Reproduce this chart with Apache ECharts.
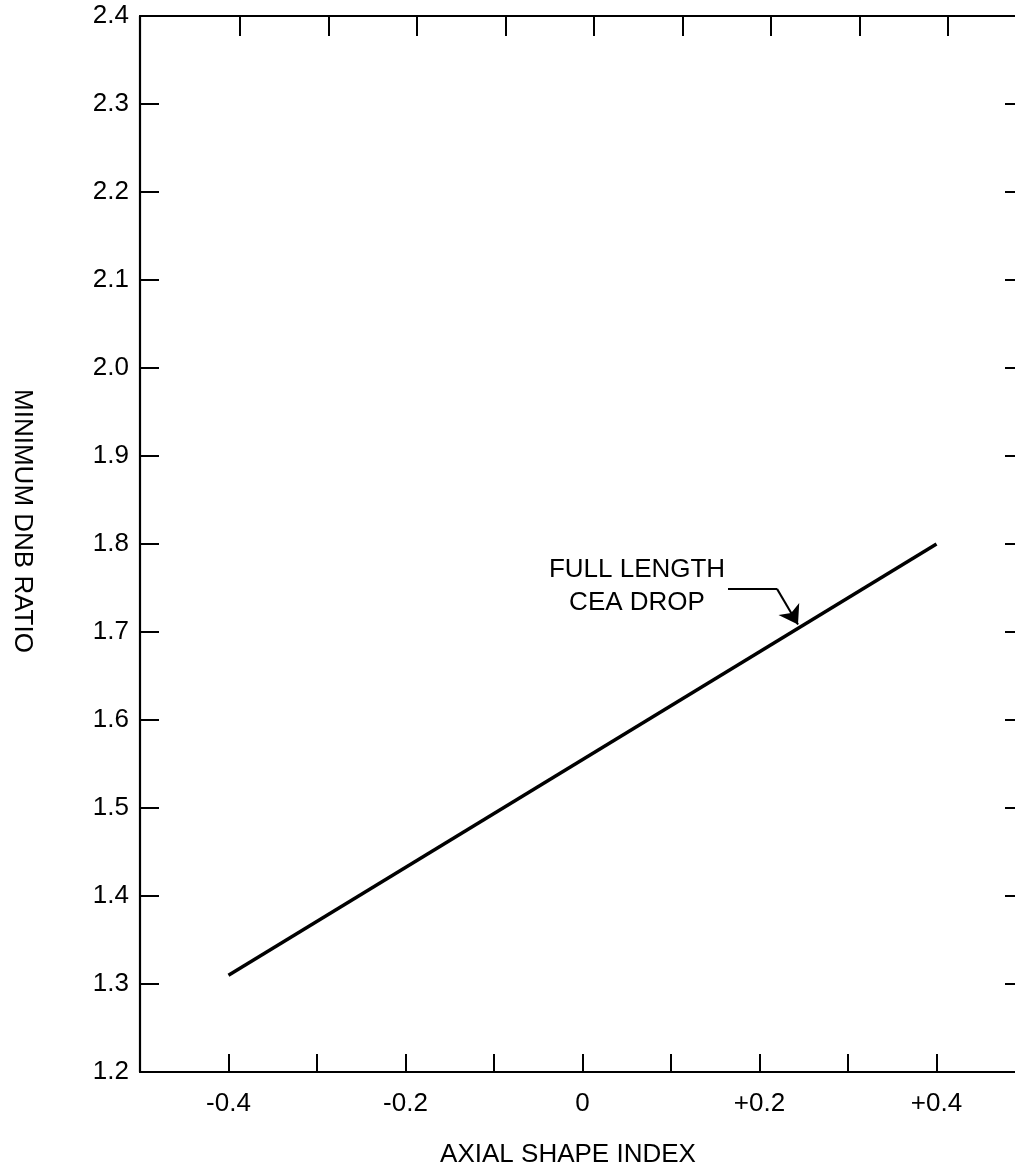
<!DOCTYPE html>
<html>
<head>
<meta charset="utf-8">
<script src="https://cdn.jsdelivr.net/npm/echarts@6/dist/echarts.min.js"></script>
<style>
html,body{margin:0;padding:0;background:#fff;overflow:hidden;}
#chart{width:1045px;height:1169px;}
</style>
</head>
<body>
<div id="chart"></div>
<script>
// ---- data ----
var lineX = [-0.4, 0.4];
var lineY = [1.31, 1.80];
var xTickLabels = {"-0.4": "-0.4", "-0.2": "-0.2", "0": "0", "0.2": "+0.2", "0.4": "+0.4"};
var yMin = 1.2, yMax = 2.4, yStep = 0.1;
var xMin = -0.5, xMax = 0.5, xStep = 0.1;
var xAxisTitle = "AXIAL SHAPE INDEX";
var yAxisTitle = "MINIMUM DNB RATIO";
var annotationText = ["FULL LENGTH", "CEA DROP"];
var annotationAnchor = [0.0616, 1.7517];
var leaderElbow = [[0.1644, 1.749], [0.2198, 1.749]];
var leaderArrow = [[0.2198, 1.749], [0.2435, 1.7085]];

var FONT = "'Liberation Sans', Arial, sans-serif";
var chart = echarts.init(document.getElementById('chart'), null, {renderer: 'canvas'});

var lineData = lineX.map(function (x, i) { return [x, lineY[i]]; });

function xLabel(v) {
  var k = String(Math.round(v * 10) / 10);
  return xTickLabels.hasOwnProperty(k) ? xTickLabels[k] : '';
}

var axisLineStyle = {color: '#000', width: 2.2};

var option = {
  animation: false,
  backgroundColor: '#fff',
  grid: [
    {left: 140, top: 16, width: 885, height: 1056},
    {left: 240, top: 16, width: 796.5, height: 1056}
  ],
  xAxis: [
    {
      type: 'value', gridIndex: 0, position: 'bottom',
      min: xMin, max: xMax, interval: xStep,
      axisLine: {show: true, onZero: false, lineStyle: axisLineStyle},
      axisTick: {show: true, inside: true, length: 18, lineStyle: {color: '#000', width: 2}},
      axisLabel: {show: true, margin: 19, color: '#000', fontSize: 26, fontFamily: FONT,
        formatter: xLabel, showMinLabel: true, showMaxLabel: true},
      splitLine: {show: false}
    },
    {
      type: 'value', gridIndex: 0, position: 'top',
      min: xMin, max: xMax, interval: xStep,
      axisLine: {show: true, onZero: false, lineStyle: axisLineStyle},
      axisTick: {show: false},
      axisLabel: {show: false},
      splitLine: {show: false}
    },
    {
      type: 'value', gridIndex: 1, position: 'top',
      min: -0.4, max: xMax, interval: xStep,
      axisLine: {show: false},
      axisTick: {show: true, inside: true, length: 20, lineStyle: {color: '#000', width: 2}},
      axisLabel: {show: false},
      splitLine: {show: false}
    }
  ],
  yAxis: [
    {
      type: 'value', gridIndex: 0, position: 'left',
      min: yMin, max: yMax, interval: yStep,
      axisLine: {show: true, onZero: false, lineStyle: axisLineStyle},
      axisTick: {show: true, inside: true, length: 19, lineStyle: {color: '#000', width: 2}},
      axisLabel: {show: true, margin: 11, color: '#000', fontSize: 26, fontFamily: FONT,
        formatter: function (v) { return v.toFixed(1); }},
      splitLine: {show: false}
    },
    {
      type: 'value', gridIndex: 0, position: 'right',
      min: yMin, max: yMax, interval: yStep,
      axisLine: {show: true, onZero: false, lineStyle: axisLineStyle},
      axisTick: {show: true, inside: true, length: 20, lineStyle: {color: '#000', width: 2}},
      axisLabel: {show: false},
      splitLine: {show: false}
    },
    {
      type: 'value', gridIndex: 1, show: false, min: yMin, max: yMax
    }
  ],
  series: [
    {
      type: 'line', xAxisIndex: 0, yAxisIndex: 0,
      data: lineData, showSymbol: false, symbol: 'none',
      lineStyle: {color: '#000', width: 3.5}
    },
    {
      type: 'lines', coordinateSystem: 'cartesian2d', xAxisIndex: 0, yAxisIndex: 0,
      symbol: ['none', 'none'],
      lineStyle: {color: '#000', width: 2, opacity: 1},
      data: [{coords: leaderElbow}]
    },
    {
      type: 'lines', coordinateSystem: 'cartesian2d', xAxisIndex: 0, yAxisIndex: 0,
      symbol: ['none', 'arrow'], symbolSize: 18,
      itemStyle: {color: '#000'},
      lineStyle: {color: '#000', width: 2, opacity: 1},
      data: [{coords: leaderArrow}]
    },
    {
      type: 'scatter', xAxisIndex: 0, yAxisIndex: 0,
      symbolSize: 0,
      itemStyle: {opacity: 1, color: '#000'},
      data: [annotationAnchor],
      label: {
        show: true, position: 'inside', color: '#000', opacity: 1, fontSize: 26, fontFamily: FONT,
        lineHeight: 33, align: 'center', textBorderWidth: 0,
        formatter: function () { return annotationText.join('\n'); }
      }
    }
  ],
  graphic: [
    {
      type: 'text', x: 568, y: 1155, z: 10,
      style: {text: xAxisTitle, fill: '#000', font: '26px ' + FONT,
        textAlign: 'center', textVerticalAlign: 'middle'}
    },
    {
      type: 'text', x: 22, y: 521, rotation: -Math.PI / 2, z: 10,
      style: {text: yAxisTitle, fill: '#000', font: '26px ' + FONT,
        textAlign: 'center', textVerticalAlign: 'middle'}
    }
  ]
};
chart.setOption(option);
</script>
</body>
</html>
